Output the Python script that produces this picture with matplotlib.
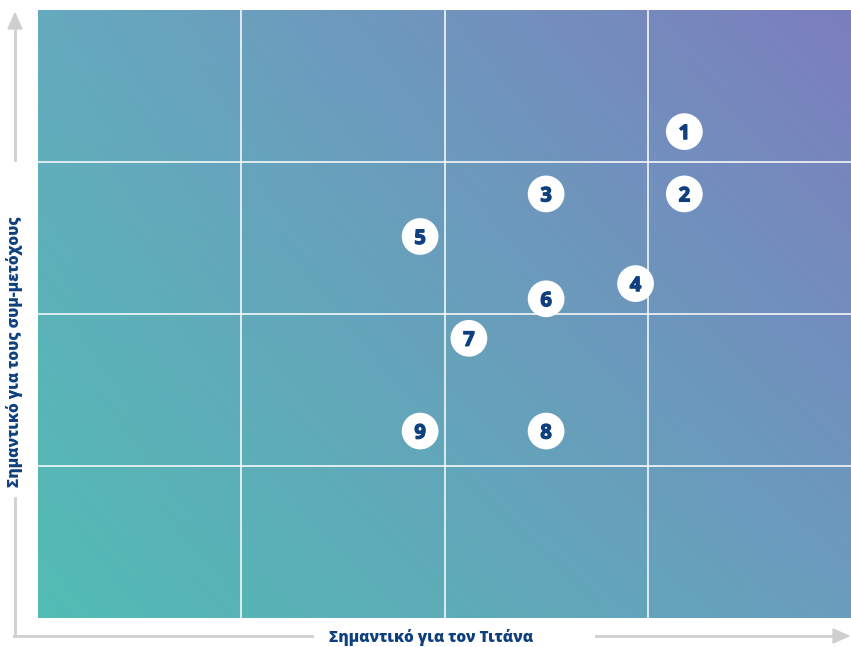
import numpy as np
import matplotlib
matplotlib.use("Agg")
import matplotlib.pyplot as plt
import matplotlib.patheffects as pe
from matplotlib.colors import to_rgb

labels = ["1", "2", "3", "4", "5", "6", "7", "8", "9"]
x_vals = [3.18, 3.18, 2.50, 2.94, 1.88, 2.50, 2.12, 2.50, 1.88]
y_vals = [3.20, 2.79, 2.79, 2.20, 2.51, 2.10, 1.84, 1.23, 1.23]
x_label = "Σημαντικό για τον Τιτάνα"
y_label = "Σημαντικό για τους συμ-μετόχους"
grid_ticks = [0, 1, 2, 3, 4]

navy = "#0e3f7e"
gray = "#cfcfcf"

W, H = 851, 647
fig = plt.figure(figsize=(W / 100, H / 100), dpi=100)
ax = fig.add_axes([38 / W, (H - 618) / H, 813 / W, 608 / H])

# background gradient (bilinear between four corners)
bl = np.array(to_rgb("#52bcb4"))
tl = np.array(to_rgb("#65aabe"))
br = np.array(to_rgb("#6a9dbd"))
tr = np.array(to_rgb("#7c7ebe"))
n = 200
u = np.linspace(0, 1, n)[None, :, None]
v = np.linspace(0, 1, n)[:, None, None]
img = (bl * (1 - u) * (1 - v) + br * u * (1 - v) + tl * (1 - u) * v + tr * u * v)
ax.imshow(img, extent=[0, 4, 0, 4], origin="lower", aspect="auto", zorder=0, interpolation="bilinear")

for t in grid_ticks[1:-1]:
    ax.axvline(t, color="white", lw=1.3, alpha=0.85, zorder=1)
    ax.axhline(t, color="white", lw=1.3, alpha=0.85, zorder=1)

ax.scatter(x_vals, y_vals, s=700, c="white", edgecolors="none", zorder=3)
for lab, x, y in zip(labels, x_vals, y_vals):
    ax.text(x, y, lab, ha="center", va="center_baseline", color=navy,
            fontsize=14.5, fontweight="bold", family="Open Sans", zorder=4,
            path_effects=[pe.withStroke(linewidth=0.9, foreground=navy)])

ax.set_xlim(0, 4)
ax.set_ylim(0, 4)
ax.set_xticks([])
ax.set_yticks([])
for s in ax.spines.values():
    s.set_visible(False)

def fx(px):
    return px / W

def fy(py):
    return 1 - py / H

lw = 2.0
# vertical
fig.add_artist(plt.Line2D([fx(15), fx(15)], [fy(636), fy(498)], color=gray, lw=lw))
fig.add_artist(plt.Line2D([fx(15), fx(15)], [fy(160), fy(28)], color=gray, lw=lw))
fig.add_artist(plt.Polygon([[fx(8), fy(29)], [fx(22), fy(29)], [fx(15), fy(13)]],
                           closed=True, color=gray, transform=fig.transFigure))
# horizontal
fig.add_artist(plt.Line2D([fx(14), fx(312)], [fy(636), fy(636)], color=gray, lw=lw))
fig.add_artist(plt.Line2D([fx(596), fx(834)], [fy(636), fy(636)], color=gray, lw=lw))
fig.add_artist(plt.Polygon([[fx(833), fy(629)], [fx(833), fy(643)], [fx(849), fy(636)]],
                           closed=True, color=gray, transform=fig.transFigure))

fig.text(fx(431), fy(638), x_label, ha="center", va="center", color=navy,
         fontsize=11.2, fontweight="heavy", family="Open Sans")
fig.text(fx(15), fy(352), y_label, ha="center", va="center", rotation=90, color=navy,
         fontsize=11.2, fontweight="heavy", family="Open Sans")

fig.savefig("out.png", dpi=100)
